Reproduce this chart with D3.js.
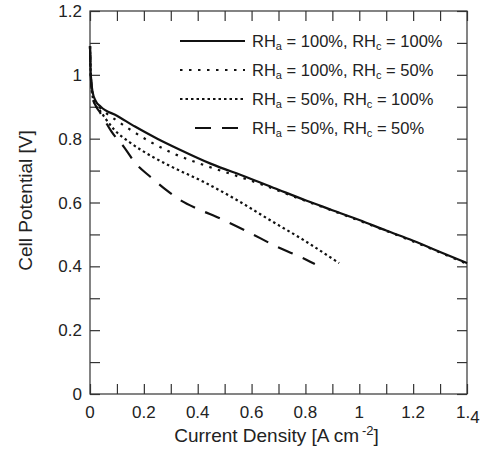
<!DOCTYPE html>
<html>
<head>
<meta charset="utf-8">
<script src="https://cdn.jsdelivr.net/npm/d3@7"></script>
<style>
  body { margin: 0; background: #fff; }
  text { font-family: "Liberation Sans", Arial, sans-serif; fill: #222; }
</style>
</head>
<body>
<div class="chart"></div>
<script>
// polarization curves, [current density, cell potential]
var rh100_100 = [[0,1.09],[0.003,1.0],[0.01,0.945],[0.02,0.92],[0.04,0.90],[0.1,0.872],[0.167,0.838],[0.25,0.80],
    [0.33,0.767],[0.45,0.721],[0.58,0.68],[0.7,0.64],[0.8,0.607],[0.9,0.576],[1.0,0.545],
    [1.1,0.512],[1.2,0.48],[1.3,0.445],[1.4,0.41]];
var rh100_50 = [[0,1.09],[0.003,1.0],[0.01,0.94],[0.02,0.915],[0.04,0.895],[0.06,0.88],[0.09,0.862],[0.15,0.828],
    [0.22,0.792],[0.309,0.754],[0.421,0.718],[0.532,0.687],[0.643,0.655],[0.755,0.619],[0.85,0.59],[1.0,0.543],
    [1.2,0.478],[1.4,0.408]];
var rh50_100 = [[0,1.09],[0.003,1.0],[0.01,0.93],[0.02,0.905],[0.035,0.89],[0.06,0.86],[0.09,0.828],[0.15,0.787],
    [0.235,0.742],[0.303,0.712],[0.421,0.665],[0.545,0.608],[0.668,0.545],[0.792,0.483],[0.925,0.41]];
var rh50_50 = [[0,1.09],[0.003,1.0],[0.01,0.93],[0.02,0.905],[0.035,0.885],[0.05,0.864],[0.08,0.822],[0.125,0.775],
    [0.17,0.722],[0.225,0.68],[0.285,0.638],[0.34,0.605],[0.4,0.58],[0.483,0.55],[0.582,0.51],[0.693,0.462],
    [0.805,0.42],[0.835,0.407]];

var series = [
    {a: "100%", c: "100%", data: rh100_100, dash: null},
    {a: "100%", c: "50%", data: rh100_50, dash: "2.5,6.5"},
    {a: "50%", c: "100%", data: rh50_100, dash: "2.5,3"},
    {a: "50%", c: "50%", data: rh50_50, dash: "16,11"}
];

var xTicks = [0, 0.2, 0.4, 0.6, 0.8, 1, 1.2];
var yTicks = [0, 0.2, 0.4, 0.6, 0.8, 1, 1.2];

var margin = {top: 11, right: 17, bottom: 61, left: 90},
    width = 484 - margin.left - margin.right,
    height = 455 - margin.top - margin.bottom;

var x = d3.scaleLinear().domain([0, 1.4]).range([0, width]);
var y = d3.scaleLinear().domain([0, 1.2]).range([height, 0]);

var svg = d3.select(".chart").append("svg")
    .attr("width", 484)
    .attr("height", 455)
    .append("g")
    .attr("transform", "translate(" + margin.left + "," + margin.top + ")");

// frame
svg.append("rect")
    .attr("width", width).attr("height", height)
    .attr("fill", "none").attr("stroke", "#333").attr("stroke-width", 1.2);

var minorX = d3.range(0, 15).map(d => d / 10);
var minorY = d3.range(0, 13).map(d => d / 10);

// inward ticks on all four sides
function tickAxis(axis, ticks) {
    return axis.tickValues(ticks).tickSize(-10).tickFormat("");
}
svg.append("g").attr("transform", "translate(0," + height + ")").call(tickAxis(d3.axisBottom(x), minorX));
svg.append("g").call(tickAxis(d3.axisTop(x), minorX));
svg.append("g").call(tickAxis(d3.axisLeft(y), minorY));
svg.append("g").attr("transform", "translate(" + width + ",0)").call(tickAxis(d3.axisRight(y), minorY));
svg.selectAll(".domain").remove();
svg.selectAll(".tick line").attr("stroke", "#333").attr("stroke-width", 1.2);

// tick labels
svg.append("g").selectAll("text")
    .data(xTicks).enter().append("text")
    .attr("x", d => x(d)).attr("y", height + 24)
    .attr("text-anchor", "middle").attr("font-size", 17)
    .text(d => d);
var last = svg.append("text")
    .attr("x", x(1.4) - 11).attr("y", height + 24)
    .attr("font-size", 17);
last.append("tspan").text("1.");
last.append("tspan").attr("dy", 5).text("4");

svg.append("g").selectAll("text")
    .data(yTicks).enter().append("text")
    .attr("x", -8).attr("y", d => y(d) + 6)
    .attr("text-anchor", "end").attr("font-size", 17)
    .text(d => d);

// axis titles
var xt = svg.append("text")
    .attr("x", width / 2 - 2).attr("y", height + 48)
    .attr("text-anchor", "middle").attr("font-size", 19);
xt.append("tspan").text("Current Density [A cm");
xt.append("tspan").attr("dy", -7).attr("dx", 3).attr("font-size", 13).text("-2");
xt.append("tspan").attr("dy", 7).text("]");

svg.append("text")
    .attr("transform", "translate(-58," + (height / 2 - 2) + ") rotate(-90)")
    .attr("text-anchor", "middle").attr("font-size", 19)
    .text("Cell Potential [V]");

// curves
var line = d3.line()
    .x(d => x(d[0]))
    .y(d => y(d[1]))
    .curve(d3.curveMonotoneX);

svg.append("g").selectAll("path")
    .data(series).enter().append("path")
    .attr("d", d => line(d.data))
    .attr("fill", "none")
    .attr("stroke", "#111")
    .attr("stroke-width", 2.2)
    .attr("stroke-dasharray", d => d.dash);

// legend
var legend = svg.append("g").attr("transform", "translate(90,30)");
var row = legend.selectAll("g").data(series).enter().append("g")
    .attr("transform", (d, i) => "translate(0," + (i * 29) + ")");
row.append("line")
    .attr("x1", (d, i) => i === 3 ? 15 : 0).attr("x2", 65)
    .attr("y1", 0).attr("y2", 0)
    .attr("stroke", "#111").attr("stroke-width", 2.2)
    .attr("stroke-dasharray", d => d.dash);
var lt = row.append("text").attr("x", 72).attr("y", 6).attr("font-size", 16.5);
lt.append("tspan").text("RH");
lt.append("tspan").attr("dy", 3).attr("font-size", 11).text("a");
lt.append("tspan").attr("dy", -3).text(d => " = " + d.a + ", RH");
lt.append("tspan").attr("dy", 3).attr("font-size", 11).text("c");
lt.append("tspan").attr("dy", -3).text(d => " = " + d.c);
</script>
</body>
</html>
